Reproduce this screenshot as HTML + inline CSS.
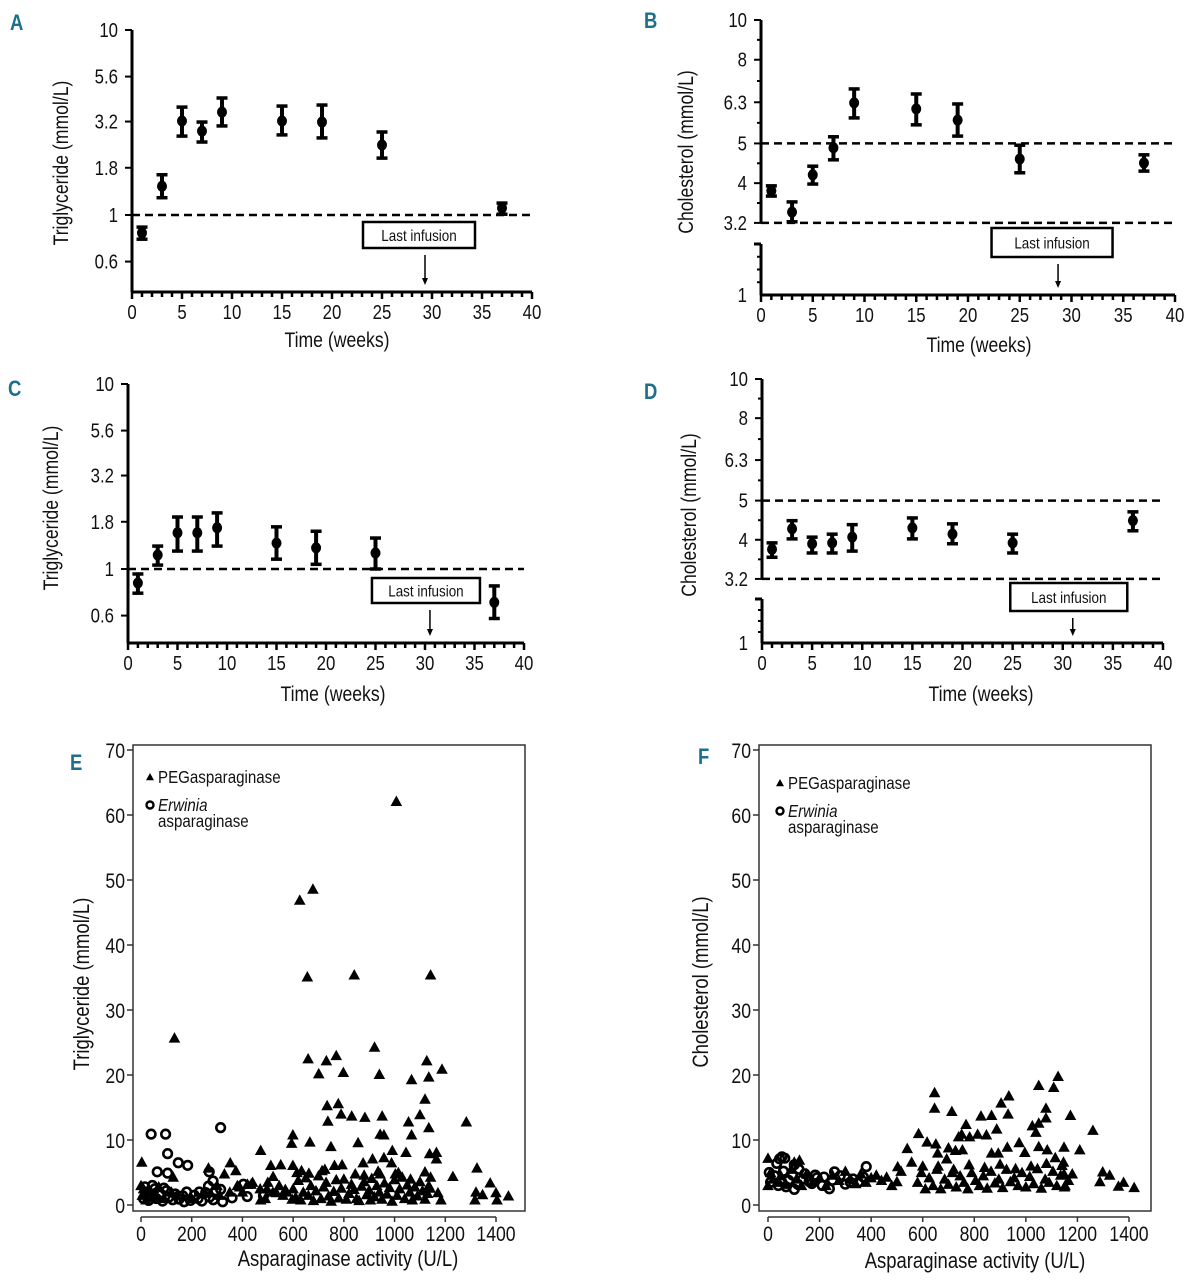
<!DOCTYPE html>
<html><head><meta charset="utf-8"><style>
html,body{margin:0;padding:0;background:#fff;}
svg text{font-family:"Liberation Sans Narrow","Liberation Sans",sans-serif;fill:#111;}
</style></head><body>
<svg id="fig" xmlns="http://www.w3.org/2000/svg" width="1188" height="1280" viewBox="0 0 1188 1280"></svg>
<script>
// ---------- DATA ----------
const weeks = [1,3,5,7,9,15,19,25,37];
const aMean = [0.80,1.43,3.22,2.84,3.60,3.22,3.18,2.39,1.09];
const aLo   = [0.74,1.24,2.67,2.48,3.03,2.71,2.61,2.03,1.01];
const aHi   = [0.86,1.65,3.83,3.18,4.29,3.88,3.93,2.81,1.16];
const bMean = [3.83,3.40,4.19,4.88,6.28,6.07,5.70,4.58,4.48];
const bLo   = [3.72,3.22,3.98,4.56,5.77,5.55,5.21,4.24,4.28];
const bHi   = [3.94,3.60,4.40,5.19,6.79,6.60,6.24,4.95,4.69];
const cMean = [0.84,1.19,1.57,1.57,1.67,1.38,1.30,1.22,0.66];
const cLo   = [0.74,1.05,1.25,1.25,1.33,1.13,1.06,1.00,0.54];
const cHi   = [0.94,1.33,1.91,1.91,2.01,1.69,1.60,1.47,0.81];
const dMean = [3.79,4.26,3.91,3.93,4.06,4.28,4.13,3.93,4.46];
const dLo   = [3.62,4.02,3.71,3.71,3.75,4.02,3.91,3.71,4.21];
const dHi   = [3.93,4.46,4.06,4.13,4.36,4.53,4.38,4.13,4.69];
const lastInfusionWeek = [29.3, 28.7, 30.5, 31];
const tgTicks = [10,5.6,3.2,1.8,1,0.56];
const tgTickLabels = ["10","5.6","3.2","1.8","1","0.6"];
const chTicks = [10,8,6.3,5,4,3.2];
const chTickLabels = ["10","8","6.3","5","4","3.2"];
const weekTicks = [0,5,10,15,20,25,30,35,40];
const actTicks = [0,200,400,600,800,1000,1200,1400];
const lvlTicks = [0,10,20,30,40,50,60,70];

const ePegX = [1007,678,626,656,841,1142,132,921,659,731,770,1127,701,798,940,1135,1067,1187,734,778,1120,789,831,883,951,1100,737,1055,1283,1135,599,943,958,1067,594,666,749,856,472,991,1045,1138,1165,1165,3,352,512,551,599,763,793,876,913,958,988,1325,266,374,329,521,633,662,714,880,1120,1142,1230,1063,943,1003,1377,1321,1347,1400,1404,1449,1317,1171,1183,1135,434,389,472,497,534,569,596,
600,610,620,630,640,650,660,670,680,690,700,710,720,730,740,750,760,770,780,790,800,810,820,830,840,850,860,870,880,890,900,905,910,920,930,940,950,960,970,980,990,1000,1010,1020,1030,1040,1050,1060,1070,1080,1090,1100,1110,1120,1130,1140,615,725,845,935,1015,575,560,545,520,490,470,500,
0,5,10,20,30,50,70,90,120,140,200,250,300,310,350,380,400,420,440,127];
const ePegY = [62.1,48.6,46.9,35.1,35.4,35.4,25.7,24.3,22.5,22.2,23.0,22.2,20.2,20.4,20.1,19.7,19.3,20.9,15.3,15.6,16.3,14.0,13.7,13.5,13.7,13.9,12.9,12.8,12.8,11.9,10.8,10.9,10.8,10.8,9.5,9.7,9.0,9.6,8.4,8.4,8.1,7.9,8.1,7.1,6.6,6.5,6.1,6.2,6.1,6.1,6.2,6.5,7.1,7.3,6.5,5.7,5.7,5.3,4.8,4.4,5.3,4.9,5.3,4.6,5.1,4.3,4.4,4.0,4.8,4.8,3.4,2.0,1.6,1.9,0.8,1.4,0.8,1.9,0.8,3.0,3.2,2.8,0.8,2.5,1.9,2.4,0.9,
2.5,1.2,3.8,0.8,2.0,4.2,1.5,3.0,0.7,2.2,4.5,1.0,2.8,3.5,1.4,0.6,2.1,3.9,1.1,2.6,4.0,0.9,1.8,3.2,2.4,1.0,0.7,2.9,3.6,1.6,2.3,0.8,4.1,1.3,3.0,2.0,0.9,3.4,1.7,2.7,0.6,3.9,1.5,2.5,4.3,1.0,3.1,2.0,0.8,2.8,1.4,3.6,2.2,0.9,1.8,2.6,5.0,5.5,4.8,5.2,5.0,2.0,1.5,3.0,2.0,1.0,2.5,3.5,
3.0,1.5,2.5,0.8,2.0,1.2,2.8,1.0,2.0,1.5,1.0,2.0,3.0,1.5,2.0,3.0,2.0,3.2,3.5,4.3];
const eErwX = [40,97,314,105,147,184,64,105,269,284,404,419,483,266,314,359,322,10,20,30,40,55,60,75,85,100,110,125,135,150,165,180,195,210,225,240,255,270,285,295,15,45,90,170,230];
const eErwY = [10.9,10.9,11.9,7.9,6.5,6.1,5.1,4.9,5.1,3.7,3.2,1.3,1.4,2.9,2.4,1.1,0.5,1.0,2.0,0.7,1.5,2.5,1.0,1.8,0.6,2.2,1.2,0.8,1.7,0.9,1.4,2.0,0.7,1.5,1.0,0.6,1.9,1.2,0.8,2.2,2.8,3.0,2.6,0.5,2.0];

const fPegX = [1125,1050,1108,646,934,904,646,1078,713,826,867,931,1173,1078,768,1050,1025,887,1260,584,1039,813,847,739,782,751,617,651,974,658,540,700,727,754,928,1050,1083,1148,1209,867,893,996,557,693,1114,1146,503,516,1148,1298,1325,1287,1379,1359,1420,1152,0,122,102,
0,10,20,35,50,70,90,110,130,150,175,200,225,250,275,300,320,340,360,380,400,420,440,460,480,500,
580,595,610,625,640,655,670,685,700,715,730,745,760,775,790,805,820,835,850,865,880,895,910,925,940,955,970,985,1000,1015,1030,1045,1060,1075,1090,1105,1120,1135,1150,1165,1180,600,660,720,780,840,900,960,1020,1080,1140];
const fPegY = [19.8,18.4,18.1,17.3,16.8,15.7,14.9,14.9,14.4,13.7,13.8,14.0,13.8,13.4,12.4,12.6,12.2,11.7,11.5,11.0,11.2,10.9,10.8,10.5,10.5,10.9,9.7,9.4,9.6,8.0,8.7,8.8,8.4,8.5,8.9,9.0,8.5,8.9,8.5,8.0,8.0,8.1,6.6,7.1,7.3,6.6,5.9,5.2,4.8,5.1,4.6,3.6,3.5,2.9,2.7,3.0,7.2,6.9,6.6,
3.0,5.0,4.0,3.5,4.5,3.2,5.5,4.0,3.0,4.8,3.6,4.2,3.0,4.6,3.8,5.2,4.0,3.3,4.8,3.5,4.2,4.6,3.8,4.3,3.0,3.6,
3.5,5.0,2.5,4.2,3.0,5.5,2.5,4.0,3.2,5.0,2.8,4.5,3.5,2.5,5.0,3.8,3.0,4.5,2.6,5.2,3.4,4.0,2.7,5.5,3.6,4.2,3.0,5.0,2.8,4.4,3.3,5.6,2.6,4.0,3.5,5.2,3.0,4.6,2.8,3.8,4.8,6.0,6.0,5.5,6.2,5.8,6.3,5.6,6.0,6.4,6.1];
const fErwX = [54,45,65,34,102,381,143,183,217,258,238,319,102,10,25,40,60,80,95,115,135,160,190,210,250,280,300,330,350,370,5,70,120,170];
const fErwY = [7.4,7.1,7.2,6.4,6.2,5.9,4.8,4.6,4.3,5.1,2.5,3.5,2.4,3.5,4.5,3.0,5.2,3.8,4.6,3.2,4.0,3.6,4.2,3.0,3.8,4.5,3.2,4.0,3.5,4.3,5.0,2.8,5.5,3.3];

// ---------- DRAW ----------
const NS = "http://www.w3.org/2000/svg";
const svg = document.getElementById('fig');
const SX = 0.84;
function mk(tag, attrs, parent){
  const e = document.createElementNS(NS, tag);
  for (const k in attrs) e.setAttribute(k, attrs[k]);
  (parent || svg).appendChild(e);
  return e;
}
function txt(s, x, y, size, anchor, parent, extra, rot){
  const tr = 'translate('+x+','+y+')' + (rot ? ' rotate(-90)' : '') + ' scale('+SX+',1)';
  const t = mk('text', Object.assign({x:0, y:0, 'font-size':size, 'text-anchor':anchor||'middle', transform:tr}, extra||{}), parent);
  t.textContent = s;
  return t;
}
const TEAL = '#1d6f8c';

function timePanel(p){
  const g = mk('g', {});
  
  
  const xs = w => p.x0 + (p.x40 - p.x0) * w / 40;
  const ys = p.ys;
  const L = txt(p.letter, p.letterX, p.letterY, 22, 'start', g, {'font-weight':'bold', style:'fill:'+TEAL});
  
  
  const yTopPx = ys(p.ticks[0]);
  if (p.broken){
    const ya = mk('line', {x1:p.x0, x2:p.x0, y1:yTopPx, y2:ys(3.2), stroke:'#000', 'stroke-width':3}, g);
    
    
    const yb = mk('line', {x1:p.x0, x2:p.x0, y1:p.lowTop, y2:p.base, stroke:'#000', 'stroke-width':3}, g);
    
    
    mk('line', {x1:p.x0-7, x2:p.x0, y1:p.lowTop, y2:p.lowTop, stroke:'#000', 'stroke-width':3}, g);
    for (let i=1;i<4;i++){
      const yy = p.lowTop + (p.base - p.lowTop) * i / 4;
      mk('line', {x1:p.x0-4, x2:p.x0, y1:yy, y2:yy, stroke:'#000', 'stroke-width':2}, g);
    }
    const one = txt('1', p.x0-14, p.base+7, 20, 'end', g);
    
    
    for (let i=0;i<p.ticks.length-1;i++){
      const ym = (ys(p.ticks[i]) + ys(p.ticks[i+1]))/2;
      mk('line', {x1:p.x0-4, x2:p.x0, y1:ym, y2:ym, stroke:'#000', 'stroke-width':2}, g);
    }
  } else {
    const ya = mk('line', {x1:p.x0, x2:p.x0, y1:yTopPx, y2:p.base, stroke:'#000', 'stroke-width':3}, g);
    
    
  }
  p.ticks.forEach((v,i)=>{
    const yy = ys(v);
    mk('line', {x1:p.x0-7, x2:p.x0, y1:yy, y2:yy, stroke:'#000', 'stroke-width':2}, g);
    const t = txt(p.tickLabels[i], p.x0-14, yy+7, 20, 'end', g);
    
    
  });
  const xa = mk('line', {x1:p.x0, x2:xs(40), y1:p.base, y2:p.base, stroke:'#000', 'stroke-width':3}, g);
  
  
  for (let w=0; w<=40; w++){
    mk('line', {x1:xs(w), x2:xs(w), y1:p.base, y2:p.base+(w%5===0?7:5), stroke:'#000', 'stroke-width':2.5}, g);
  }
  weekTicks.forEach(w=>{
    const t = txt(String(w), xs(w), p.base+27, 20, 'middle', g);
    
    
  });
  const xt = txt('Time (weeks)', p.xTitleX, p.xTitleY, 21, 'middle', g);
  
  
  const yt = txt(p.yTitle, p.yTitleX, p.yTitleY, 21, 'middle', g, {}, true);
  
  
  p.refs.forEach(v=>{
    const l = mk('line', {x1:p.x0, x2:xs(40), y1:ys(v), y2:ys(v), stroke:'#000', 'stroke-width':2.5, 'stroke-dasharray':'8,5'}, g);
    
    
  });
  p.weeks.forEach((w,i)=>{
    const cx = xs(w), yl = ys(p.lo[i]), yh = ys(p.hi[i]), ym = ys(p.mean[i]);
    const eb = mk('g', {}, g);
    
    
    mk('line', {x1:cx, x2:cx, y1:yh, y2:yl, stroke:'#000', 'stroke-width':4}, eb);
    mk('line', {x1:cx-5.5, x2:cx+5.5, y1:yh, y2:yh, stroke:'#000', 'stroke-width':3.5}, eb);
    mk('line', {x1:cx-5.5, x2:cx+5.5, y1:yl, y2:yl, stroke:'#000', 'stroke-width':3.5}, eb);
    mk('ellipse', {cx:cx, cy:ym, rx:5, ry:5.5, fill:'#000'}, eb);
  });
  const ax = xs(p.infWeek);
  const box = mk('rect', {x:ax-p.boxW/2+p.boxShift, y:p.boxY, width:p.boxW, height:p.boxH, fill:'#fff', stroke:'#000', 'stroke-width':2.5}, g);
  
  
  const bt = txt('Last infusion', ax+p.boxShift, p.boxY+p.boxH/2+6, 16, 'middle', g);
  
  
  const ar = mk('line', {x1:ax, x2:ax, y1:p.boxY+p.boxH+ (p.arrowGap||7), y2:p.base-12, stroke:'#000', 'stroke-width':1.5}, g);
  
  
  mk('path', {d:'M'+(ax-3)+','+(p.base-14)+' L'+(ax+3)+','+(p.base-14)+' L'+ax+','+(p.base-7)+' Z', fill:'#000'}, g);
}

timePanel({name:'panel-a-triglyceride-time', letter:'A', letterX:10, letterY:30,
  x0:132, x40:532, base:292, ys:v=>215-185*Math.log10(v), ticks:tgTicks, tickLabels:tgTickLabels,
  refs:[1], weeks:weeks, mean:aMean, lo:aLo, hi:aHi, infWeek:lastInfusionWeek[0],
  boxW:112, boxH:26, boxY:222, boxShift:-6, yTitle:'Triglyceride (mmol/L)', yTitleX:68, yTitleY:163, xTitleX:337, xTitleY:347});
timePanel({name:'panel-b-cholesterol-time', letter:'B', letterX:644, letterY:28,
  x0:761, x40:1175, base:295, ys:v=>20+(1-Math.log10(v))*410, ticks:chTicks, tickLabels:chTickLabels,
  broken:true, lowTop:244, refs:[5,3.2], weeks:weeks, mean:bMean, lo:bLo, hi:bHi, infWeek:lastInfusionWeek[1],
  boxW:121, boxH:29, boxY:228, boxShift:-6, arrowGap:0, yTitle:'Cholesterol (mmol/L)', yTitleX:693, yTitleY:152, xTitleX:979, xTitleY:352});
timePanel({name:'panel-c-triglyceride-time', letter:'C', letterX:8, letterY:396,
  x0:128, x40:524, base:643, ys:v=>569-185*Math.log10(v), ticks:tgTicks, tickLabels:tgTickLabels,
  refs:[1], weeks:weeks, mean:cMean, lo:cLo, hi:cHi, infWeek:lastInfusionWeek[2],
  boxW:108, boxH:25, boxY:578, boxShift:-4, yTitle:'Triglyceride (mmol/L)', yTitleX:58, yTitleY:508, xTitleX:333, xTitleY:701});
timePanel({name:'panel-d-cholesterol-time', letter:'D', letterX:644, letterY:399,
  x0:762, x40:1163, base:643, ys:v=>379+(1-Math.log10(v))*404, ticks:chTicks, tickLabels:chTickLabels,
  broken:true, lowTop:599, refs:[5,3.2], weeks:weeks, mean:dMean, lo:dLo, hi:dHi, infWeek:lastInfusionWeek[3],
  boxW:117, boxH:28, boxY:583, boxShift:-4, arrowGap:0, yTitle:'Cholesterol (mmol/L)', yTitleX:696, yTitleY:515, xTitleX:981, xTitleY:701});

function scatterPanel(p){
  const g = mk('g', {});
  
  
  const xs = v => p.x0 + (p.x1400 - p.x0) * v / 1400;
  const ys = v => p.y0 + (p.y70 - p.y0) * v / 70;
  const L = txt(p.letter, p.letterX, p.letterY, 22, 'start', g, {'font-weight':'bold', style:'fill:'+TEAL});
  
  
  const fr = mk('rect', {x:p.fl, y:p.ft, width:p.fr-p.fl, height:p.fb-p.ft, fill:'none', stroke:'#333', 'stroke-width':1.5}, g);
  
  
  lvlTicks.forEach(v=>{
    mk('line', {x1:p.fl-6, x2:p.fl, y1:ys(v), y2:ys(v), stroke:'#333', 'stroke-width':1.5}, g);
    const t = txt(String(v), p.fl-8, ys(v)+8, 21, 'end', g);
    
    
  });
  const xa = mk('line', {x1:xs(0), x2:xs(1400), y1:p.fb+6, y2:p.fb+6, stroke:'#333', 'stroke-width':1.5}, g);
  
  
  actTicks.forEach(v=>{
    mk('line', {x1:xs(v), x2:xs(v), y1:p.fb+6, y2:p.fb+11, stroke:'#333', 'stroke-width':1.5}, g);
    const t = txt(String(v), xs(v), p.fb+30, 21, 'middle', g);
    
    
  });
  const xt = txt('Asparaginase activity (U/L)', p.xTitleX, p.xTitleY, 22, 'middle', g);
  
  
  const yt = txt(p.yTitle, p.yTitleX, p.yTitleY, 22, 'middle', g, {}, true);
  
  
  const tri = (cx, cy, s) => 'M'+(cx-s)+','+(cy+s*0.8)+' L'+(cx+s)+','+(cy+s*0.8)+' L'+cx+','+(cy-s*1.0)+' Z';
  p.ex.forEach((v,i)=>{
    const c = mk('circle', {cx:xs(v), cy:ys(p.ey[i]), r:4.3, fill:'none', stroke:'#000', 'stroke-width':2.6}, g);
    
    
  });
  p.px.forEach((v,i)=>{
    const t = mk('path', {d:tri(xs(v), ys(p.py[i]), 5.8), fill:'#000'}, g);
    
    
  });
  const lg = mk('g', {}, g);
  
  
  mk('path', {d:tri(p.legX, p.legY-5, 4), fill:'#000'}, lg);
  const l1 = txt('PEGasparaginase', p.legX+8, p.legY+1, 18, 'start', lg);
  
  
  mk('circle', {cx:p.legX, cy:p.legY+23, r:3.5, fill:'none', stroke:'#000', 'stroke-width':2.4}, lg);
  const l2 = txt('Erwinia', p.legX+8, p.legY+29, 18, 'start', lg, {'font-style':'italic'});
  
  
  const l3 = txt('asparaginase', p.legX+8, p.legY+45, 18, 'start', lg);
  
  
}

scatterPanel({name:'panel-e-triglyceride-scatter', letter:'E', letterX:70, letterY:770,
  fl:133, fr:525, ft:745, fb:1211, x0:141, x1400:496, y0:1205, y70:750,
  px:ePegX, py:ePegY, ex:eErwX, ey:eErwY, legX:150, legY:782,
  yTitle:'Triglyceride (mmol/L)', yTitleX:89, yTitleY:984, xTitleX:348, xTitleY:1266});
scatterPanel({name:'panel-f-cholesterol-scatter', letter:'F', letterX:698, letterY:764,
  fl:759, fr:1151, ft:745, fb:1211, x0:768, x1400:1129, y0:1205, y70:750,
  px:fPegX, py:fPegY, ex:fErwX, ey:fErwY, legX:780, legY:788,
  yTitle:'Cholesterol (mmol/L)', yTitleX:708, yTitleY:982, xTitleX:975, xTitleY:1268});
</script>
</body></html>
